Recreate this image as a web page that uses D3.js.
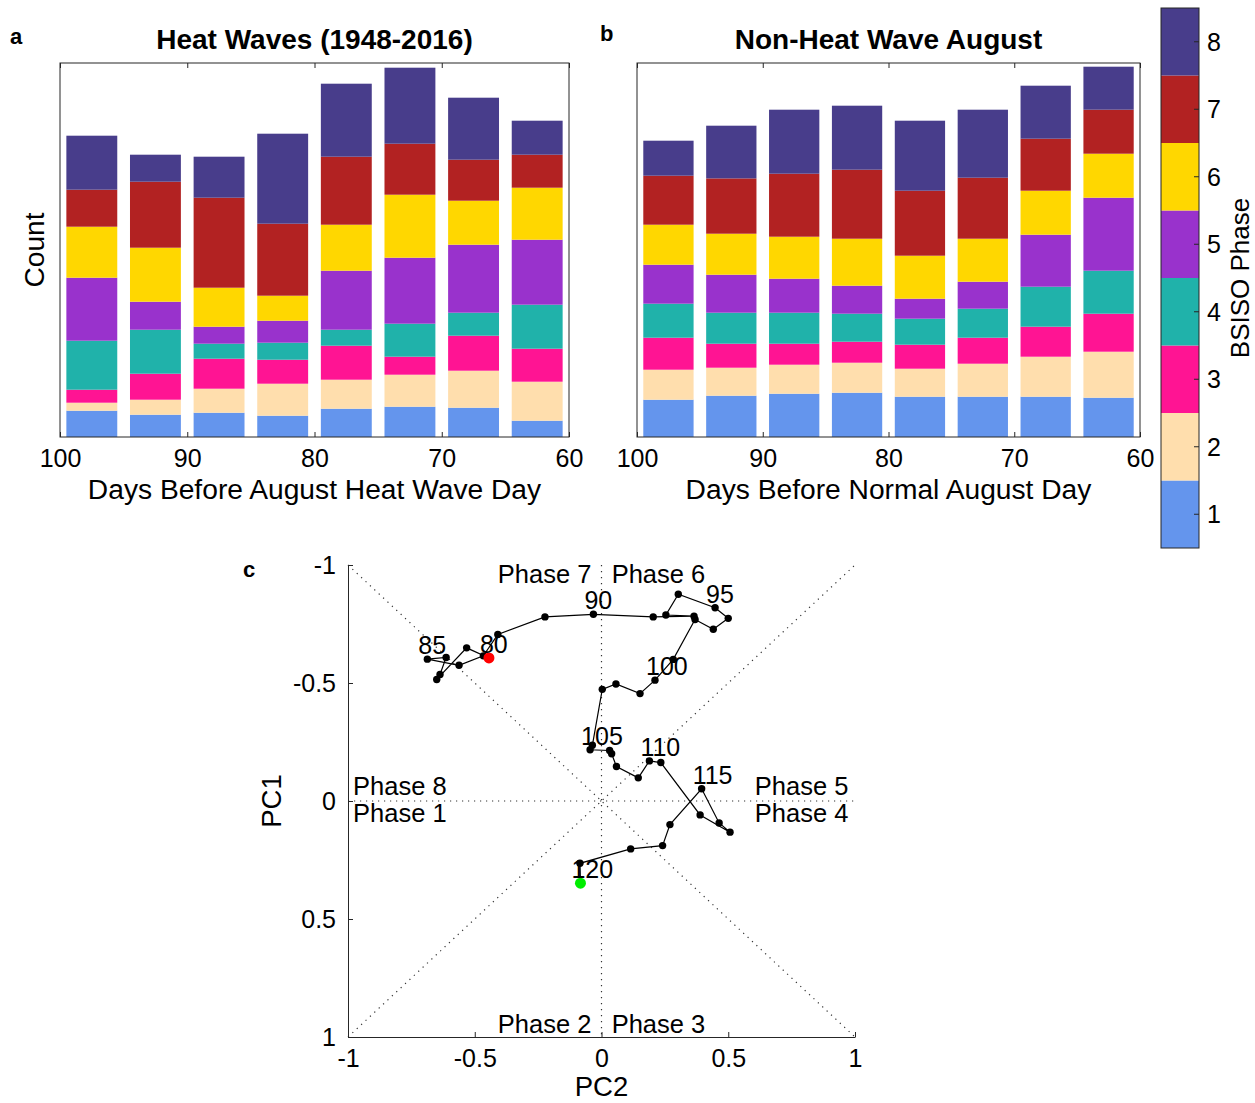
<!DOCTYPE html>
<html>
<head>
<meta charset="utf-8">
<script src="https://cdn.jsdelivr.net/npm/d3@7"></script>
<style>
  html, body { margin: 0; padding: 0; background: #fff; }
  svg { display: block; font-family: "Liberation Sans", Arial, Helvetica, sans-serif; }
</style>
</head>
<body>
<svg id="chart" width="1255" height="1103"></svg>
<script>
// ---------------- DATA ----------------
const phaseNames = ["1", "2", "3", "4", "5", "6", "7", "8"];
const phaseColors = ["#6495ED", "#FFDEAD", "#FF1493", "#20B2AA", "#9932CC", "#FFD700", "#B22222", "#483D8B"];
const binCenters = [97.5, 92.5, 87.5, 82.5, 77.5, 72.5, 67.5, 62.5];
const barXTicks = [100, 90, 80, 70, 60];

// counts per bin (rows = bins, columns = phases 1..8), relative units
const heatWaveCounts = [
  [26.3, 8, 13, 49, 63, 51, 37, 54],
  [22.3, 15, 26, 44, 28, 54, 66, 27],
  [24.3, 24, 30, 15, 17, 39, 90, 41],
  [21.3, 32, 24, 17, 22, 25, 72, 90],
  [28.3, 29, 34, 16, 59, 46, 68, 73],
  [30.3, 32, 18, 33, 66, 63, 51, 76],
  [29.3, 37, 35, 23, 68, 44, 41, 62],
  [16.3, 39, 33, 44, 65, 52, 33, 34]
];
const normalCounts = [
  [37.3, 30, 32, 34, 39, 40, 49, 35],
  [41.3, 28, 24, 31, 38, 41, 55.3, 52.7],
  [43.3, 29, 21, 31, 34, 42, 63, 64],
  [44.3, 30, 21, 28, 28, 47, 69, 64],
  [40.3, 28, 24, 26, 20, 43, 65, 70],
  [40.3, 33, 26, 29, 27, 43, 61, 68],
  [40.3, 40, 30, 40, 52, 44, 52, 53],
  [39.3, 46, 38, 43, 73, 44, 44, 43]
];
const countMax = 374;

// BSISO trajectory, days 80..120
const trajDays = [80, 81, 82, 83, 84, 85, 86, 87, 88, 89, 90, 91, 92, 93, 94, 95, 96, 97, 98, 99, 100,
                  101, 102, 103, 104, 105, 106, 107, 108, 109, 110, 111, 112, 113, 114, 115, 116, 117, 118, 119, 120];
const trajPC2 = [-0.444, -0.532, -0.650, -0.637, -0.613, -0.687, -0.562, -0.466, -0.409, -0.223, -0.032,
                 0.204, 0.365, 0.254, 0.303, 0.448, 0.500, 0.441, 0.369, 0.283, 0.211,
                 0.152, 0.057, 0.003, -0.036, -0.045, 0.032, 0.040, 0.059, 0.145, 0.189,
                 0.234, 0.389, 0.507, 0.464, 0.395, 0.270, 0.241, 0.115, -0.085, -0.083];
const trajPC1 = [-0.606, -0.649, -0.515, -0.536, -0.608, -0.601, -0.575, -0.615, -0.706, -0.780, -0.791,
                 -0.780, -0.783, -0.788, -0.876, -0.819, -0.774, -0.728, -0.769, -0.600, -0.512,
                 -0.455, -0.496, -0.473, -0.236, -0.217, -0.214, -0.200, -0.146, -0.098, -0.170,
                 -0.163, 0.059, 0.132, 0.093, -0.052, 0.100, 0.189, 0.203, 0.264, 0.348];
const labeledDays = [80, 85, 90, 95, 100, 105, 110, 115, 120];
const pcTicks = [-1, -0.5, 0, 0.5, 1];

// ---------------- DRAW ----------------
const svg = d3.select("#chart");
const axisColor = "#262626";
const tickFont = 25, labelFont = 28.2;

function drawBars(data, x0, x1, title, xlabel, panelLetter, letterX, letterY) {
  const y0 = 63, y1 = 437;
  const g = svg.append("g");
  const x = d3.scaleLinear().domain([100, 60]).range([x0, x1]);
  const y = d3.scaleLinear().domain([0, countMax]).range([y1, y0]);
  const barW = x(96) - x(100);

  const rows = data.map((r, i) => {
    const o = { bin: binCenters[i] };
    phaseNames.forEach((p, j) => o[p] = r[j]);
    return o;
  });
  const series = d3.stack().keys(phaseNames)(rows);
  series.forEach((s, k) => {
    g.append("g").attr("fill", phaseColors[k])
      .selectAll("rect").data(s).join("rect")
      .attr("x", d => x(d.data.bin) - barW / 2)
      .attr("width", barW)
      .attr("y", d => y(d[1]))
      .attr("height", d => y(d[0]) - y(d[1]));
  });

  // box
  g.append("rect").attr("x", x0).attr("y", y0).attr("width", x1 - x0).attr("height", y1 - y0)
    .attr("fill", "none").attr("stroke", axisColor).attr("stroke-width", 1);

  // bottom axis
  const ax = d3.axisBottom(x).tickValues(barXTicks).tickSizeInner(-5).tickSizeOuter(0)
    .tickPadding(12).tickFormat(d => String(d));
  const axg = g.append("g").attr("transform", `translate(0,${y1})`).call(ax);
  axg.select(".domain").remove();
  axg.selectAll("line").attr("stroke", axisColor);
  axg.selectAll("text").attr("font-size", tickFont).attr("fill", "#000")
    .attr("font-family", "Liberation Sans, Arial, sans-serif");
  // top ticks
  const axt = d3.axisTop(x).tickValues(barXTicks).tickSizeInner(-5).tickSizeOuter(0).tickFormat("");
  const atg = g.append("g").attr("transform", `translate(0,${y0})`).call(axt);
  atg.select(".domain").remove();
  atg.selectAll("line").attr("stroke", axisColor);

  g.append("text").attr("x", (x0 + x1) / 2).attr("y", 499).attr("text-anchor", "middle")
    .attr("font-size", labelFont).text(xlabel);
  g.append("text").attr("x", (x0 + x1) / 2).attr("y", 49).attr("text-anchor", "middle")
    .attr("font-size", 28).attr("font-weight", "bold").text(title);
  g.append("text").attr("x", letterX).attr("y", letterY).attr("font-size", 22)
    .attr("font-weight", "bold").text(panelLetter);
  return { x, y };
}

drawBars(heatWaveCounts, 60, 569, "Heat Waves (1948-2016)", "Days Before August Heat Wave Day", "a", 10, 44);
drawBars(normalCounts, 637, 1140, "Non-Heat Wave August", "Days Before Normal August Day", "b", 600, 41);

svg.append("text").attr("transform", "translate(44,250) rotate(-90)").attr("text-anchor", "middle")
  .attr("font-size", labelFont).text("Count");

// ---------------- COLORBAR ----------------
{
  const cx0 = 1161, cx1 = 1199, cy0 = 8, cy1 = 548;
  const cb = svg.append("g");
  const cy = d3.scaleBand().domain(phaseNames.slice().reverse()).range([cy0, cy1]).paddingInner(0);
  cb.selectAll("rect.seg").data(phaseNames).join("rect").attr("class", "seg")
    .attr("x", cx0).attr("width", cx1 - cx0)
    .attr("y", d => cy(d)).attr("height", cy.bandwidth())
    .attr("fill", (d, i) => phaseColors[i]);
  cb.append("rect").attr("x", cx0).attr("y", cy0).attr("width", cx1 - cx0).attr("height", cy1 - cy0)
    .attr("fill", "none").attr("stroke", axisColor).attr("stroke-width", 1);
  cb.selectAll("line.tk").data(phaseNames).join("line").attr("class", "tk")
    .attr("x1", cx1 - 5).attr("x2", cx1)
    .attr("y1", d => cy(d) + cy.bandwidth() / 2).attr("y2", d => cy(d) + cy.bandwidth() / 2)
    .attr("stroke", axisColor);
  cb.selectAll("text.tl").data(phaseNames).join("text").attr("class", "tl")
    .attr("x", 1207).attr("y", d => cy(d) + cy.bandwidth() / 2).attr("dy", "0.35em")
    .attr("font-size", tickFont).text(d => d);
  cb.append("text").attr("transform", "translate(1249,278) rotate(-90)").attr("text-anchor", "middle")
    .attr("font-size", 26).text("BSISO Phase");
}

// ---------------- PANEL C ----------------
{
  const px0 = 348, px1 = 855, py0 = 565, py1 = 1037;
  const sx = d3.scaleLinear().domain([-1, 1]).range([px0, px1]);
  const sy = d3.scaleLinear().domain([-1, 1]).range([py0, py1]);
  const g = svg.append("g");

  const dotted = { stroke: "#333", "stroke-width": 1.2, "stroke-dasharray": "1.2 4.8" };
  const guide = [
    [[-1, -1], [1, 1]], [[-1, 1], [1, -1]], [[-1, 0], [1, 0]], [[0, -1], [0, 1]]
  ];
  guide.forEach(([a, b]) => {
    const l = g.append("line").attr("x1", sx(a[0])).attr("y1", sy(a[1])).attr("x2", sx(b[0])).attr("y2", sy(b[1]));
    Object.entries(dotted).forEach(([k, v]) => l.attr(k, v));
  });

  // axes
  const yAx = d3.axisLeft(sy).tickValues(pcTicks).tickSizeInner(-5).tickSizeOuter(0).tickPadding(12)
    .tickFormat(d => String(d));
  const yg = g.append("g").attr("transform", `translate(${px0},0)`).call(yAx);
  const xAx = d3.axisBottom(sx).tickValues(pcTicks).tickSizeInner(-5).tickSizeOuter(0).tickPadding(12)
    .tickFormat(d => String(d));
  const xg = g.append("g").attr("transform", `translate(0,${py1})`).call(xAx);
  [yg, xg].forEach(a => {
    a.select(".domain").attr("stroke", axisColor);
    a.selectAll("line").attr("stroke", axisColor);
    a.selectAll("text").attr("font-size", tickFont).attr("fill", "#000")
      .attr("font-family", "Liberation Sans, Arial, sans-serif");
  });

  g.append("text").attr("x", sx(0)).attr("y", 1096).attr("text-anchor", "middle").attr("font-size", 27.5).text("PC2");
  g.append("text").attr("transform", `translate(281,${sy(0)}) rotate(-90)`).attr("text-anchor", "middle")
    .attr("font-size", 27.5).text("PC1");
  g.append("text").attr("x", 243).attr("y", 577).attr("font-size", 22).attr("font-weight", "bold").text("c");

  // phase labels
  const phaseLabels = [
    ["Phase 7", -0.04, -0.925, "end"], ["Phase 6", 0.04, -0.925, "start"],
    ["Phase 8", -0.98, -0.025, "start"], ["Phase 1", -0.98, 0.09, "start"],
    ["Phase 5", 0.605, -0.025, "start"], ["Phase 4", 0.605, 0.09, "start"],
    ["Phase 2", -0.04, 0.985, "end"], ["Phase 3", 0.04, 0.985, "start"]
  ];
  g.selectAll("text.pl").data(phaseLabels).join("text").attr("class", "pl")
    .attr("x", d => sx(d[1])).attr("y", d => sy(d[2])).attr("text-anchor", d => d[3])
    .attr("font-size", 25.5).text(d => d[0]);

  // trajectory
  const pts = trajDays.map((d, i) => ({ day: d, x: trajPC2[i], y: trajPC1[i] }));
  g.append("path").datum(pts)
    .attr("d", d3.line().x(d => sx(d.x)).y(d => sy(d.y)))
    .attr("fill", "none").attr("stroke", "#000").attr("stroke-width", 1.2);
  g.selectAll("circle.pt").data(pts).join("circle").attr("class", "pt")
    .attr("cx", d => sx(d.x)).attr("cy", d => sy(d.y)).attr("r", 3.7).attr("fill", "#000");
  g.append("circle").attr("cx", sx(pts[0].x)).attr("cy", sy(pts[0].y)).attr("r", 5.5).attr("fill", "#ff0000");
  const last = pts[pts.length - 1];
  g.append("circle").attr("cx", sx(last.x)).attr("cy", sy(last.y)).attr("r", 5.5).attr("fill", "#00ee00");

  g.selectAll("text.dl").data(pts.filter(p => labeledDays.includes(p.day))).join("text").attr("class", "dl")
    .attr("x", d => sx(d.x) - 9).attr("y", d => sy(d.y) - 5)
    .attr("font-size", tickFont).text(d => d.day);
}
</script>
</body>
</html>
